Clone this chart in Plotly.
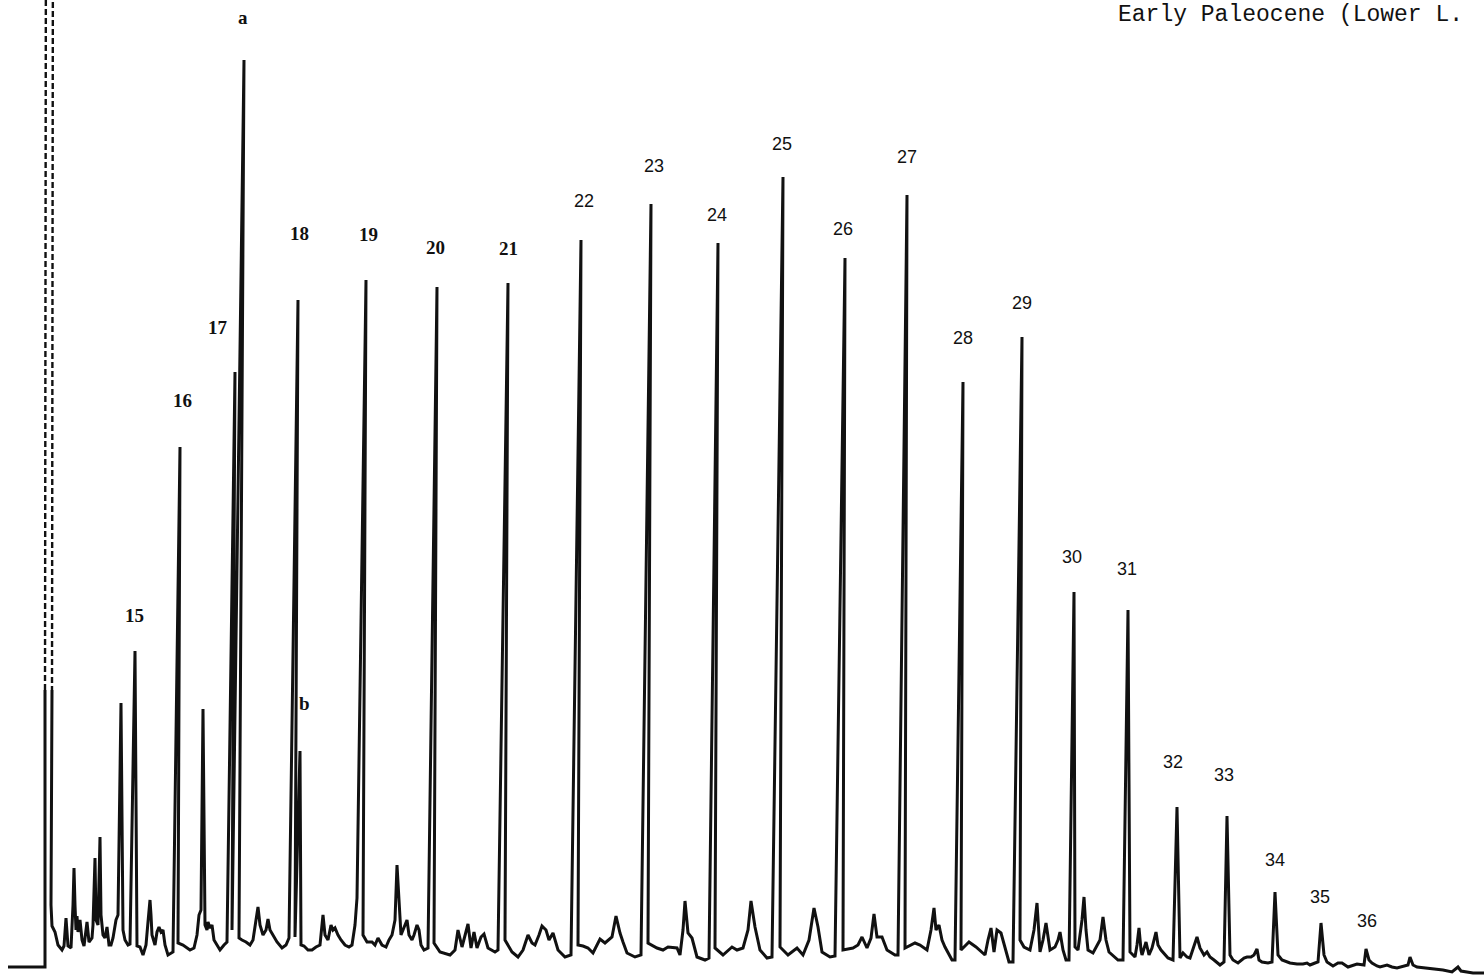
import plotly.graph_objects as go

# ---------------- DATA ----------------
# Labelled peaks: n-alkane carbon numbers, a / b = isoprenoids
peak_labels = ["15", "16", "17", "a", "18", "b", "19", "20", "21", "22", "23", "24",
               "25", "26", "27", "28", "29", "30", "31", "32", "33", "34", "35", "36"]
peak_rt = [135, 180, 235, 244, 298, 300, 366, 437, 508, 581, 651, 718,
           783, 845, 907, 963, 1022, 1074, 1128, 1177, 1227, 1275, 1321, 1366]
peak_resp = [325, 529, 604, 916, 676, 225, 696, 689, 693, 736, 772, 733,
             799, 718, 781, 594, 639, 384, 366, 169, 160, 84, 53, 27]

# Signal before injection and the off-scale solvent front
pre_rt = [8, 44, 45]
pre_resp = [9, 9, 9]
solvent_rt = [45, 52]          # rise, fall
solvent_resp = 1100            # off scale

# Baseline trace with the minor (unlabelled) peaks
baseline_rt = [
    51, 52, 55, 58, 62, 64, 66, 68, 71, 73, 74, 75, 76, 77, 78, 80, 82, 84, 86, 87,
    89, 92, 93, 95, 96, 98, 100, 101, 103, 105, 107, 109, 111, 113, 116, 118, 121, 123, 125, 128,
    130, 137, 140, 143, 146, 148, 150, 151, 152, 155, 157, 159, 161, 163, 165, 168, 172, 173, 178, 183,
    186, 190, 194, 197, 199, 201, 203, 205, 207, 208, 210, 212, 214, 217, 220, 224, 227, 232, 239, 242,
    246, 250, 253, 256, 258, 260, 263, 266, 268, 270, 273, 277, 282, 286, 289, 295, 301, 304, 308, 312,
    316, 320, 323, 325, 328, 331, 333, 335, 338, 341, 345, 349, 352, 355, 357, 363, 367, 372, 375, 378,
    382, 386, 389, 392, 395, 397, 399, 401, 403, 405, 407, 409, 412, 414, 417, 419, 421, 424, 428, 434,
    440, 450, 455, 458, 462, 468, 471, 474, 477, 481, 484, 488, 495, 498, 505, 512, 518, 523, 528, 532,
    535, 539, 542, 546, 549, 553, 558, 565, 571, 578, 583, 588, 593, 600, 605, 612, 616, 620, 623, 627,
    635, 641, 648, 657, 663, 668, 677, 680, 683, 685, 688, 692, 697, 705, 709, 715, 723, 732, 737, 743,
    748, 751, 755, 760, 767, 772, 780, 788, 797, 803, 809, 814, 818, 822, 830, 835, 843, 853, 858, 862,
    867, 871, 874, 877, 882, 887, 895, 898, 905, 915, 920, 927, 931, 934, 936, 939, 942, 945, 952, 955,
    961, 969, 976, 985, 988, 991, 994, 997, 1001, 1005, 1009, 1013, 1020, 1024, 1030, 1034, 1037, 1040, 1043, 1046,
    1050, 1055, 1058, 1060, 1063, 1066, 1069, 1075, 1078, 1082, 1084, 1086, 1088, 1093, 1100, 1103, 1106, 1109, 1118, 1123,
    1130, 1135, 1137, 1139, 1141, 1142, 1146, 1149, 1152, 1156, 1158, 1161, 1168, 1173, 1180, 1183, 1187, 1190, 1194, 1197,
    1200, 1204, 1207, 1210, 1214, 1220, 1224, 1230, 1233, 1238, 1244, 1247, 1251, 1254, 1257, 1259, 1262, 1268, 1272, 1278,
    1282, 1290, 1297, 1303, 1307, 1310, 1315, 1318, 1324, 1327, 1333, 1338, 1342, 1348, 1353, 1357, 1364, 1369, 1372, 1377,
    1380, 1387, 1392, 1397, 1403, 1408, 1410, 1413, 1417, 1427, 1435, 1443, 1452, 1456, 1458, 1461, 1466, 1473, 1484,
]
baseline_resp = [
    71, 50, 44, 31, 26, 30, 58, 30, 28, 71, 108, 71, 46, 60, 44, 56, 36, 30, 46, 54,
    34, 38, 51, 118, 56, 51, 139, 61, 41, 38, 49, 31, 31, 38, 56, 61, 273, 46, 36, 31,
    32, 30, 29, 21, 31, 54, 76, 61, 41, 31, 44, 49, 44, 46, 31, 21, 24, 24, 33, 31,
    29, 26, 28, 41, 61, 66, 267, 51, 46, 54, 48, 51, 36, 31, 26, 31, 34, 46, 38, 36,
    34, 31, 36, 56, 69, 51, 41, 46, 57, 46, 41, 34, 28, 31, 38, 39, 31, 30, 26, 26,
    29, 31, 61, 41, 36, 51, 46, 48, 41, 36, 31, 29, 31, 51, 78, 41, 34, 34, 31, 38,
    31, 29, 36, 41, 56, 111, 71, 41, 46, 51, 56, 41, 36, 41, 51, 46, 31, 26, 28, 33,
    24, 21, 26, 46, 29, 52, 28, 44, 28, 39, 42, 28, 24, 26, 36, 24, 19, 26, 41, 33,
    31, 41, 50, 46, 36, 43, 26, 19, 21, 31, 30, 28, 23, 37, 33, 39, 60, 43, 34, 23,
    19, 21, 33, 28, 26, 29, 28, 21, 46, 75, 43, 38, 19, 16, 18, 28, 21, 29, 26, 28,
    46, 75, 49, 26, 18, 19, 29, 21, 28, 21, 36, 68, 49, 24, 19, 20, 26, 28, 31, 39,
    28, 38, 62, 39, 39, 26, 21, 21, 28, 33, 31, 26, 46, 68, 46, 51, 36, 29, 16, 16,
    26, 34, 29, 21, 36, 48, 24, 46, 43, 29, 14, 14, 36, 29, 26, 46, 73, 24, 36, 53,
    26, 29, 36, 44, 26, 16, 16, 29, 26, 56, 79, 46, 26, 23, 36, 59, 36, 24, 16, 16,
    24, 19, 31, 48, 26, 21, 34, 21, 28, 44, 31, 26, 18, 16, 18, 23, 19, 18, 31, 39,
    28, 21, 24, 19, 16, 11, 14, 21, 16, 13, 18, 19, 19, 21, 27, 16, 14, 13, 14, 21,
    16, 13, 12, 12, 13, 11, 13, 14, 21, 14, 10, 13, 13, 9, 11, 12, 11, 16, 13, 10,
    9, 11, 9, 8, 10, 11, 19, 11, 9, 8, 7, 6, 4, 8, 9, 5, 4, 3, 3,
]

title_text = "Early Paleocene (Lower L."

# ---------------- LAYOUT / STYLE ----------------
W, H = 1484, 976
INK = "#111111"
LINE_W = 3.0
LEAN = 0.009            # slight skew of the scanned recorder trace
DASH_FROM = 286         # solvent front drawn broken above this response
# label offsets (dx, dy) from each peak apex, in chart units
label_offsets = [(-1, 36), (2, 47), (-17, 45), (-1, 43), (1, 67), (4, 48), (2, 46), (-2, 40),
                 (0, 35), (3, 39), (3, 38), (-1, 28), (-1, 33), (-2, 29), (0, 38), (0, 44),
                 (0, 34), (-2, 35), (-1, 41), (-4, 45), (-3, 41), (0, 32), (-1, 26), (1, 28)]
serif_labels = {"15", "16", "17", "18", "19", "20", "21", "a", "b"}

# merge baseline points and labelled apexes into one recorder trace
pts = [(x, x, y) for x, y in zip(baseline_rt, baseline_resp)]
for x, y in zip(peak_rt, peak_resp):
    pts.append((x - LEAN * y, x, y))
pts.sort(key=lambda p: p[0])
trace_x = [solvent_rt[1]] + [p[1] for p in pts]
trace_y = [DASH_FROM] + [p[2] for p in pts]

fig = go.Figure()
# pre-injection flat line and solvent rise (solid part)
fig.add_trace(go.Scatter(x=pre_rt + [solvent_rt[0]], y=pre_resp + [DASH_FROM], mode="lines",
                         line=dict(color=INK, width=LINE_W), hoverinfo="skip"))
# broken (dashed) upper part of the solvent front
fig.add_trace(go.Scatter(x=[solvent_rt[0], solvent_rt[0] + 1, None, solvent_rt[1] + 1, solvent_rt[1]],
                         y=[DASH_FROM, solvent_resp, None, solvent_resp, DASH_FROM], mode="lines",
                         line=dict(color=INK, width=2.4, dash="6px,3px"), hoverinfo="skip"))
# main chromatogram
fig.add_trace(go.Scatter(x=trace_x, y=trace_y, mode="lines",
                         line=dict(color=INK, width=LINE_W), hoverinfo="skip"))

for lab, x, y, (dx, dy) in zip(peak_labels, peak_rt, peak_resp, label_offsets):
    if lab in serif_labels:
        font = dict(family="Liberation Serif", size=19, color=INK)
        txt = "<b>%s</b>" % lab
    else:
        font = dict(family="Liberation Sans", size=18, color=INK)
        txt = lab
    fig.add_annotation(x=x + dx, y=y + dy, text=txt, showarrow=False, font=font,
                       xanchor="center", yanchor="middle")

fig.add_annotation(x=1117, y=H - 15, text=title_text, showarrow=False, xanchor="left",
                   yanchor="middle", borderpad=0,
                   font=dict(family="Liberation Mono", size=23, color=INK))

fig.update_layout(
    width=W, height=H, margin=dict(l=0, r=0, t=0, b=0),
    paper_bgcolor="white", plot_bgcolor="white", showlegend=False,
    xaxis=dict(range=[0, W], visible=False, fixedrange=True),
    yaxis=dict(range=[0, H], visible=False, fixedrange=True),
)

fig.write_html("out.html", config={"displayModeBar": False},
               post_script="document.body.style.margin='0px';document.body.style.overflow='hidden';")
